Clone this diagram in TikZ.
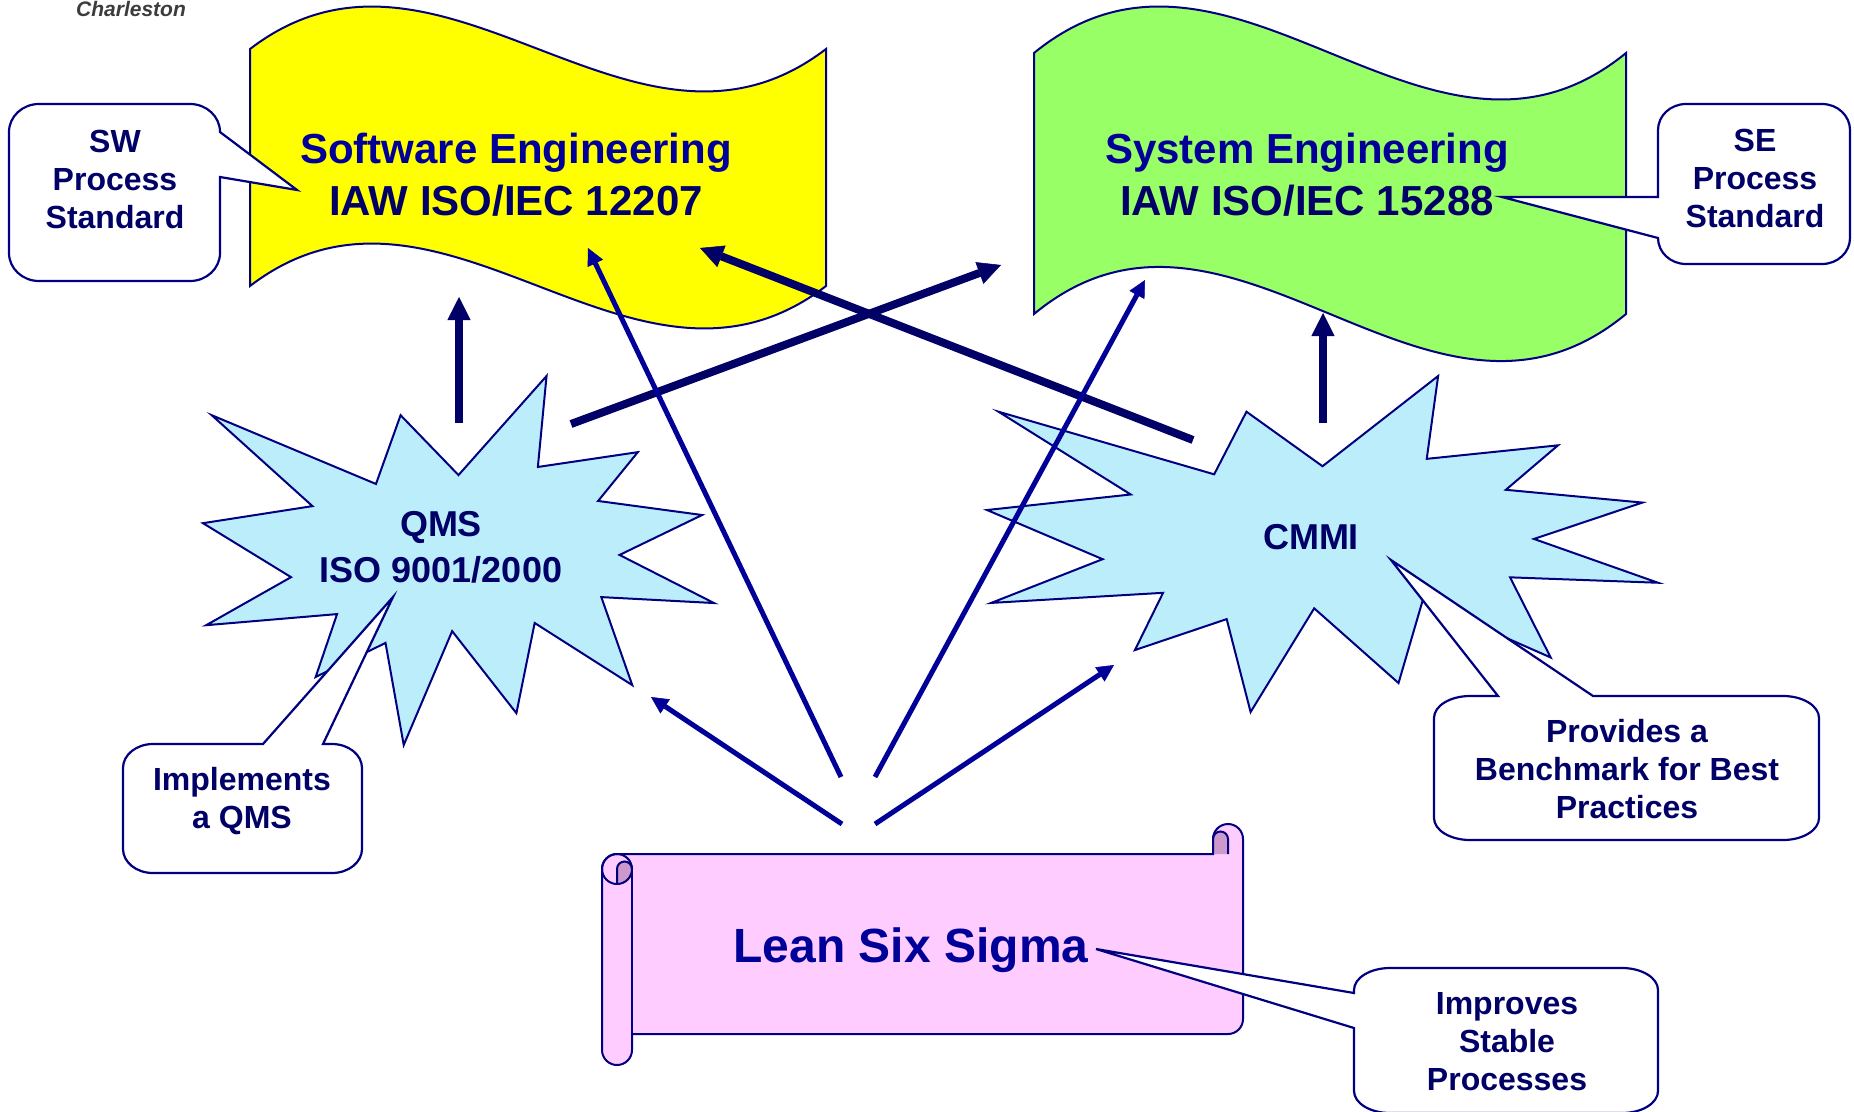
\documentclass[tikz,border=0pt]{standalone}
\usepackage{fontspec}
\setmainfont{Liberation Sans}
\usetikzlibrary{arrows.meta}
\definecolor{navy}{RGB}{0,0,102}
\definecolor{royal}{RGB}{0,0,153}
\definecolor{edge}{RGB}{0,0,128}
\definecolor{flagyellow}{RGB}{255,255,0}
\definecolor{flaggreen}{RGB}{153,255,102}
\definecolor{burst}{RGB}{187,238,250}
\definecolor{scrollpink}{RGB}{255,204,255}
\definecolor{scrollshade}{RGB}{204,153,204}
\definecolor{logogrey}{RGB}{60,60,60}
\tikzset{
  outline/.style={draw=edge, line width=2pt, line join=miter},
  bubble/.style={draw=edge, line width=2.2pt, fill=white, line join=miter},
  heavyarrow/.style={draw=navy, line width=8pt,
    -{Triangle[length=23pt,width=23pt,line width=0.5pt]}},
  leanarrow/.style={draw=royal, line width=5pt,
    -{Triangle[length=17pt,width=17pt,line width=0.5pt]}},
  % multi-line labels are placed by the baseline of their last line
  notetext/.style={font=\fontsize{32}{38}\selectfont\bfseries, text=navy,
    align=center, inner sep=0pt, anchor=base},
  bursttext/.style={font=\fontsize{36}{46}\selectfont\bfseries, text=navy,
    align=center, inner sep=0pt, anchor=base},
  titletext/.style={font=\fontsize{42}{52}\selectfont\bfseries, text=navy,
    align=center, inner sep=0pt, anchor=base},
}
\begin{document}
\begin{tikzpicture}[x=1pt, y=-1pt]
\useasboundingbox (0,0) rectangle (1854,1111);
\clip (0,0) rectangle (1854,1111);
\fill[white] (0,0) rectangle (1854,1111);

% logo text at the top edge
\node[font=\fontsize{21}{25}\selectfont\bfseries\itshape, text=logogrey,
  inner sep=0pt, anchor=base west] (charleston) at (76,16) {Charleston};

% wavy banners
\path[outline, fill=flagyellow]
  (250,49) .. controls (442,-98) and (634,196) .. (826,49)
  -- (826,286) .. controls (634,433) and (442,139) .. (250,286) -- cycle;
\path[outline, fill=flaggreen]
  (1034,53) .. controls (1231,-108) and (1429,214) .. (1626,53)
  -- (1626,314) .. controls (1429,477) and (1231,151) .. (1034,314) -- cycle;

% explosion shapes (outline in 1/100 of a 21600 grid)
\foreach \ox/\oy/\sx/\sy in {203/376/2.3657/1.7083, 987/376/3.1065/1.5556}{
  \begin{scope}[shift={(\ox,\oy)}, xscale=\sx, yscale=\sy]
    \path[outline, fill=burst]
      (108.00,58.00) -- (83.52,22.95) -- (73.12,63.20) -- (3.70,22.95)
      -- (46.27,76.17) -- (0,86.15) -- (37.22,117.75) -- (1.35,145.87)
      -- (56.67,139.37) -- (47.62,176.17) -- (77.15,156.27) -- (84.85,216.00)
      -- (105.32,149.35) -- (132.47,197.37) -- (140.20,144.57) -- (181.45,180.95)
      -- (168.37,129.42) -- (216.00,132.90) -- (176.07,104.75) -- (210.97,81.37)
      -- (167.02,73.15) -- (183.80,44.57) -- (141.55,53.25) -- (145.22,0) -- cycle;
  \end{scope}
}

% scroll
\path[fill=scrollpink]
  (602,869) arc[start angle=180, end angle=270, radius=15] -- (1213,854)
  -- (1213,839) arc[start angle=180, end angle=360, radius=15]
  -- (1243,1019) arc[start angle=0, end angle=90, radius=15] -- (632,1034)
  -- (632,1050) arc[start angle=0, end angle=180, radius=15] -- cycle;
\path[fill=scrollshade]
  (617,869) arc[start angle=180, end angle=360, radius=7.5]
  arc[start angle=0, end angle=90, radius=15] -- cycle;
\path[fill=scrollshade]
  (1213,839) arc[start angle=180, end angle=360, radius=7.5]
  -- (1228,854) -- (1213,854) -- cycle;
\path[outline]
  (602,869) arc[start angle=180, end angle=270, radius=15] -- (1213,854)
  -- (1213,839) arc[start angle=180, end angle=360, radius=15]
  -- (1243,1019) arc[start angle=0, end angle=90, radius=15] -- (632,1034)
  -- (632,1050) arc[start angle=0, end angle=180, radius=15] -- cycle;
\draw[outline] (617,869) circle[radius=15];
\draw[outline] (632,869) -- (632,1034);
\draw[outline] (617,884) -- (617,869) arc[start angle=180, end angle=360, radius=7.5];
\draw[outline] (1213,839) arc[start angle=180, end angle=360, radius=7.5] -- (1228,854);

% arrow end points
\coordinate (qmsup) at (459,423);
\coordinate (swin) at (459,297);
\coordinate (cmmiup) at (1323,423);
\coordinate (sein) at (1323,313);
\coordinate (qmsout) at (571,424);
\coordinate (sefromqms) at (1001,265);
\coordinate (cmmiout) at (1193,440);
\coordinate (swfromcmmi) at (700,248);
\coordinate (lssa) at (842,824);
\coordinate (lssb) at (841,777);
\coordinate (lssc) at (875,777);
\coordinate (lssd) at (875,824);
\coordinate (qmsin) at (651,697);
\coordinate (swfromlss) at (588,248);
\coordinate (sefromlss) at (1145,280);
\coordinate (cmmiin) at (1114,665);

\draw[heavyarrow] (qmsup) -- (swin);
\draw[heavyarrow] (cmmiup) -- (sein);
\draw[heavyarrow] (qmsout) -- (sefromqms);
\draw[heavyarrow] (cmmiout) -- (swfromcmmi);
\draw[leanarrow] (lssa) -- (qmsin);
\draw[leanarrow] (lssb) -- (swfromlss);
\draw[leanarrow] (lssc) -- (sefromlss);
\draw[leanarrow] (lssd) -- (cmmiin);

% callouts
\path[bubble] (39,104) -- (190,104)
  arc[start angle=270, end angle=360, x radius=30, y radius=28]
  -- (297,190) -- (220,177) -- (220,253)
  arc[start angle=0, end angle=90, x radius=30, y radius=28] -- (39,281)
  arc[start angle=90, end angle=180, x radius=30, y radius=28] -- (9,132)
  arc[start angle=180, end angle=270, x radius=30, y radius=28] -- cycle;
\path[bubble] (1686,104) -- (1822,104)
  arc[start angle=270, end angle=360, x radius=28, y radius=26] -- (1850,238)
  arc[start angle=0, end angle=90, x radius=28, y radius=26] -- (1686,264)
  arc[start angle=90, end angle=180, x radius=28, y radius=26]
  -- (1502,197) -- (1658,197) -- (1658,130)
  arc[start angle=180, end angle=270, x radius=28, y radius=26] -- cycle;
\path[bubble] (153,744) -- (263,744) -- (393,597) -- (323,744) -- (332,744)
  arc[start angle=270, end angle=360, x radius=30, y radius=24] -- (362,849)
  arc[start angle=0, end angle=90, x radius=30, y radius=24] -- (153,873)
  arc[start angle=90, end angle=180, x radius=30, y radius=24] -- (123,768)
  arc[start angle=180, end angle=270, x radius=30, y radius=24] -- cycle;
\path[bubble] (1470,696) -- (1498,696) -- (1391,560) -- (1593,696) -- (1783,696)
  arc[start angle=270, end angle=360, x radius=36, y radius=22] -- (1819,818)
  arc[start angle=0, end angle=90, x radius=36, y radius=22] -- (1470,840)
  arc[start angle=90, end angle=180, x radius=36, y radius=22] -- (1434,718)
  arc[start angle=180, end angle=270, x radius=36, y radius=22] -- cycle;
\path[bubble] (1390,968) -- (1622,968)
  arc[start angle=270, end angle=360, x radius=36, y radius=22] -- (1658,1091)
  arc[start angle=0, end angle=90, x radius=36, y radius=22] -- (1390,1113)
  arc[start angle=90, end angle=180, x radius=36, y radius=22]
  -- (1354,1028) -- (1096,949) -- (1354,993) -- (1354,990)
  arc[start angle=180, end angle=270, x radius=36, y radius=22] -- cycle;

% labels
\node[titletext] (swtitle) at (516,215)
  {\textcolor{royal}{Software Engineering}\\IAW ISO/IEC 12207};
\node[titletext] (setitle) at (1307,215)
  {\textcolor{royal}{System Engineering}\\IAW ISO/IEC 15288};
\node[bursttext] (qms) at (441,582) {QMS\\ISO 9001/2000};
\node[bursttext] (cmmi) at (1311,549) {CMMI};
\node[font=\fontsize{48}{56}\selectfont\bfseries, text=royal, inner sep=0pt,
  anchor=base] (lss) at (911,962) {Lean Six Sigma};
\node[notetext] (swnote) at (115,228) {SW\\Process\\Standard};
\node[notetext] (senote) at (1755,227) {SE\\Process\\Standard};
\node[notetext] (qmsnote) at (242,828) {Implements\\a QMS};
\node[notetext] (cmminote) at (1627,818) {Provides a\\Benchmark for Best\\Practices};
\node[notetext] (lssnote) at (1507,1090) {Improves\\Stable\\Processes};
\end{tikzpicture}
\end{document}
